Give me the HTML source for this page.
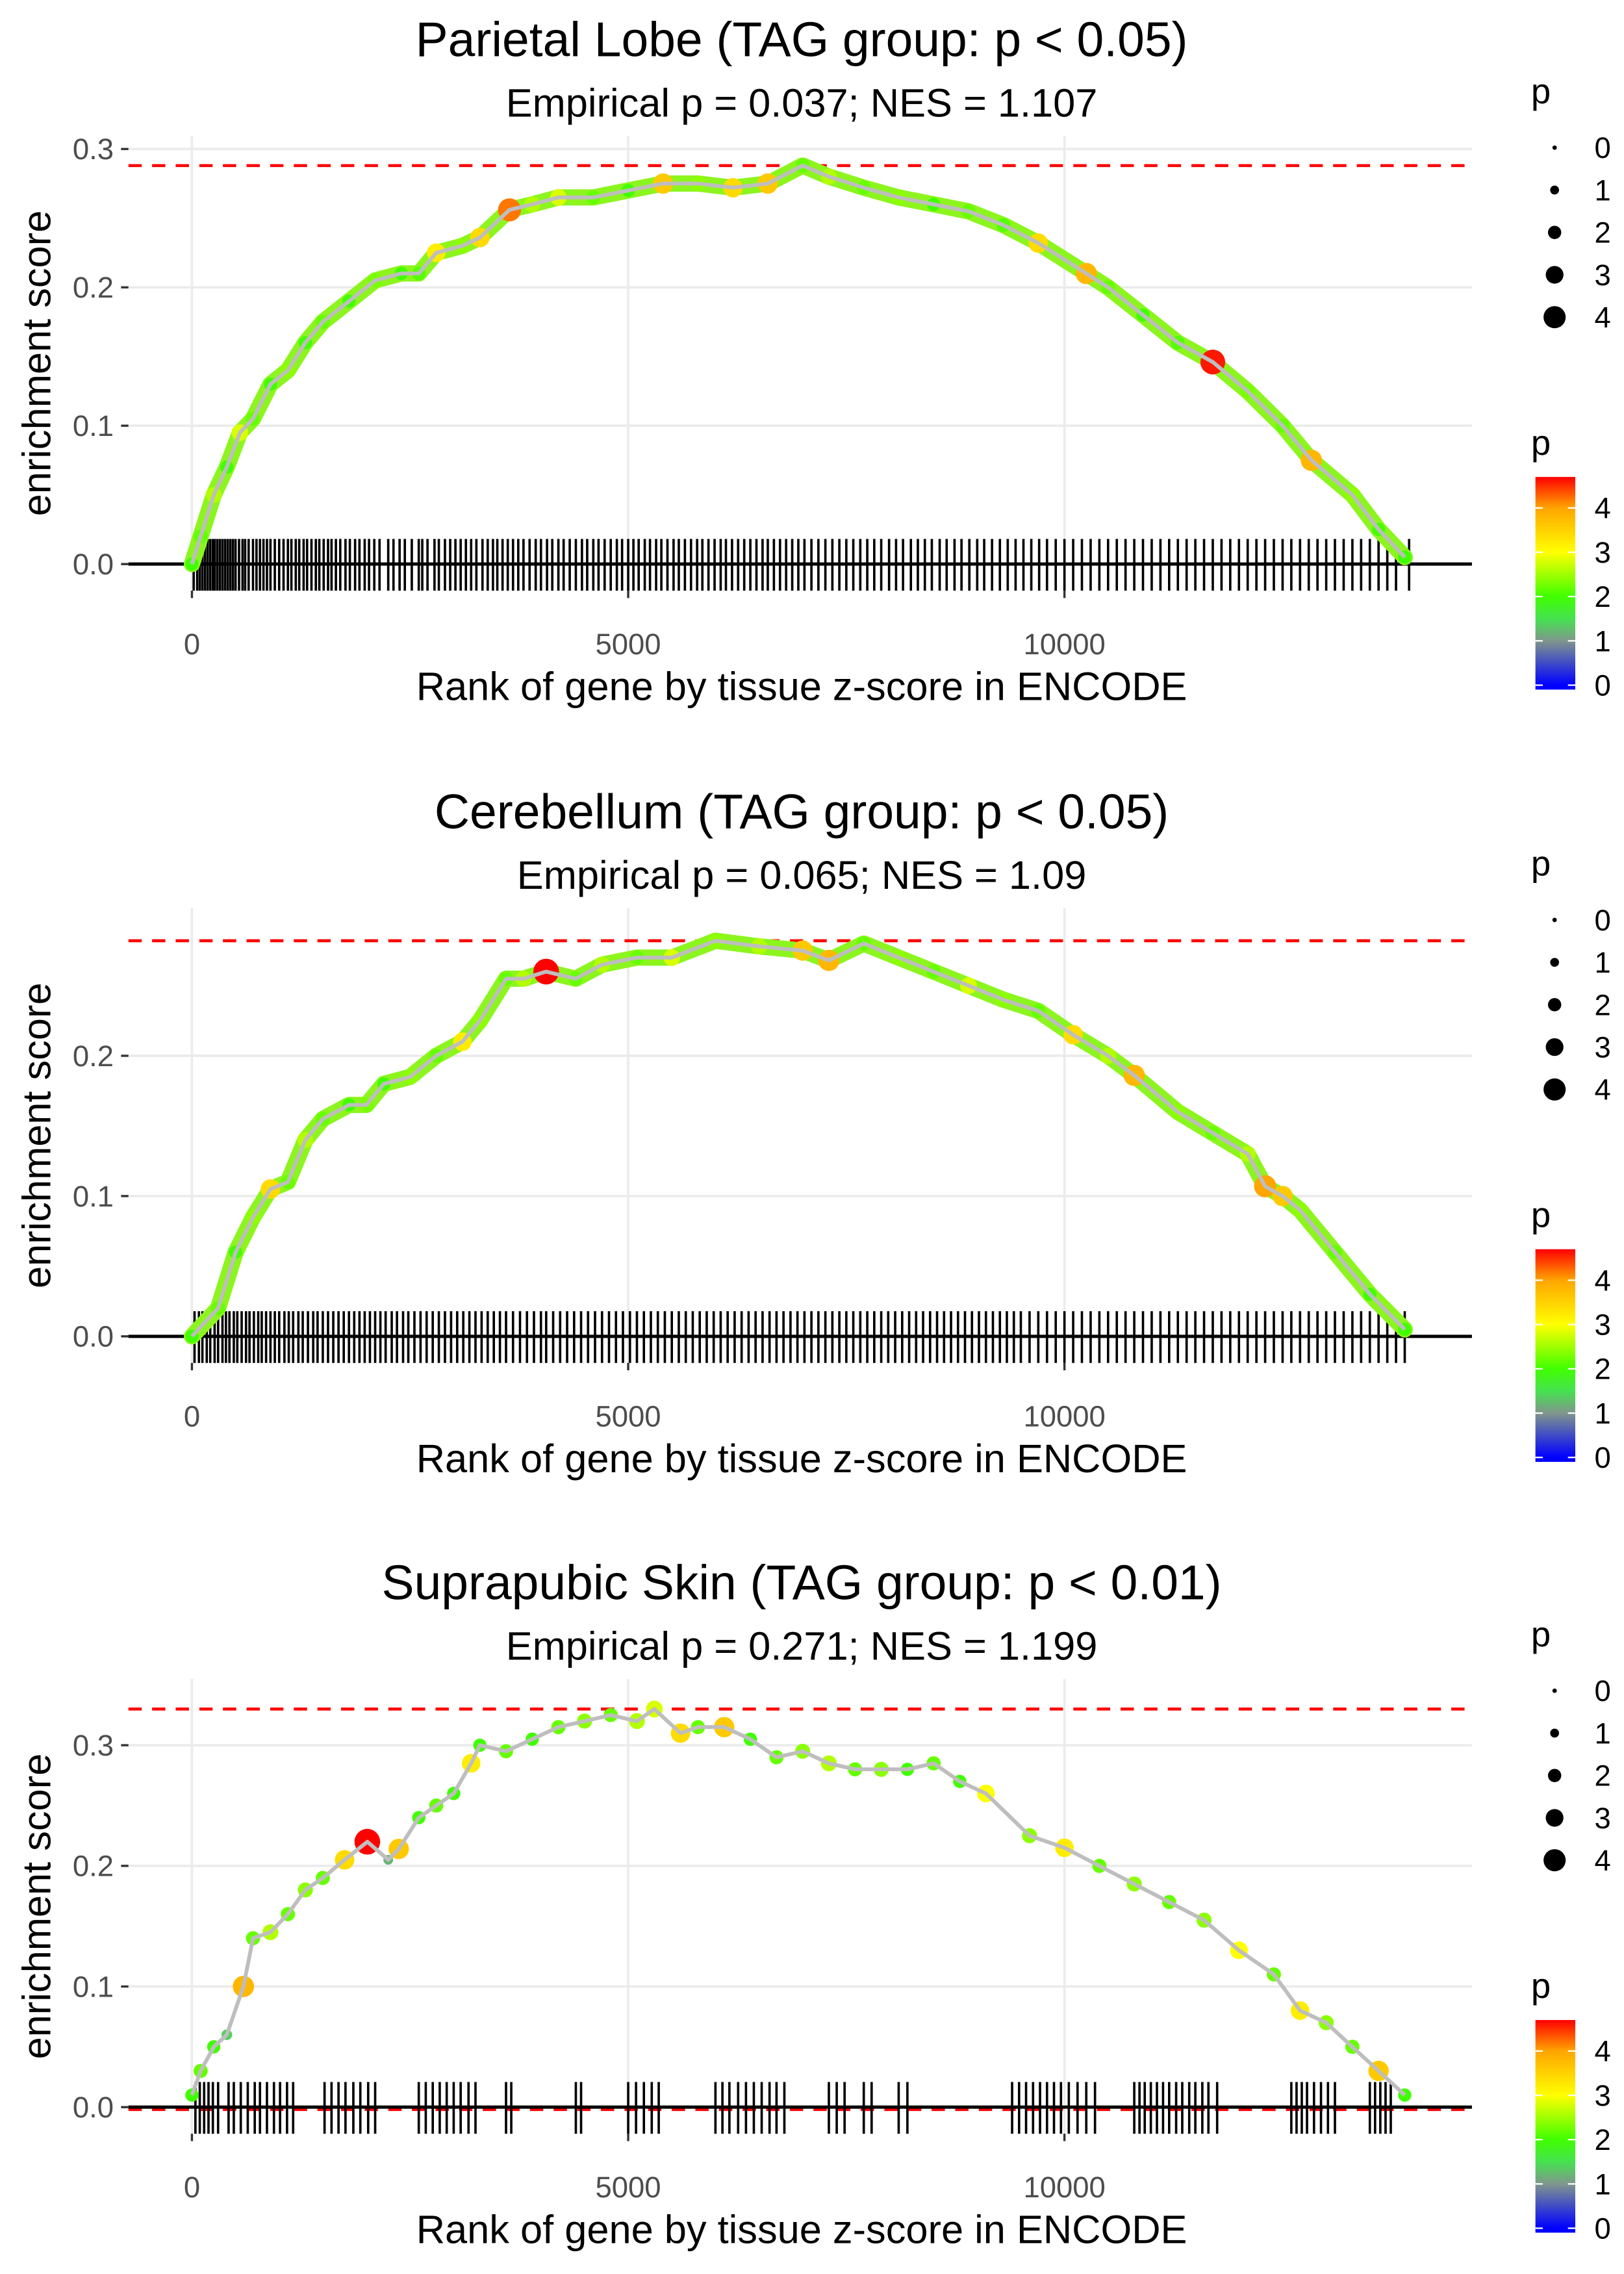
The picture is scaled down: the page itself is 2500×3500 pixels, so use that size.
<!DOCTYPE html>
<html><head><meta charset="utf-8"><style>html,body{margin:0;padding:0;background:#fff}svg{display:block}text{font-family:"Liberation Sans",Arial,sans-serif}</style></head>
<body>
<svg id="fig" xmlns="http://www.w3.org/2000/svg" width="2500" height="3500" viewBox="0 0 1100 1540"></svg>
<script>
// ---- Panel 1 data: Parietal Lobe ----
const p1Ranks=[0,100,250,400,550,700,900,1100,1300,1500,1800,2100,2400,2600,2800,3100,3300,3640,3900,4200,4600,5000,5400,5800,6200,6600,7000,7300,7700,8100,8500,8900,9300,9700,10250,10500,10900,11300,11700,12100,12500,12830,13300,13600,13900];
const p1ES=[0,0.02,0.05,0.07,0.095,0.105,0.13,0.14,0.16,0.175,0.19,0.205,0.21,0.21,0.225,0.23,0.236,0.256,0.26,0.265,0.265,0.27,0.275,0.275,0.272,0.275,0.288,0.28,0.272,0.265,0.26,0.255,0.245,0.232,0.21,0.2,0.18,0.16,0.146,0.125,0.1,0.075,0.05,0.025,0.005];
const p1P=[2,2.2,2.6,2,2.8,2.2,2,2.4,2,2.2,2,2.3,2,2.1,3.2,2.4,3.4,4.2,2.6,2.8,2.2,2,3.6,2.4,3.4,3.6,2.2,2.6,2.2,2.4,2,2.2,2.1,3.4,3.8,2.2,2,2.1,4.6,2.3,2.2,3.8,2.4,2,2];
const p1Rug=[20,60,90,120,150,180,210,240,260,290,320,350,380,410,440,470,500,540,580,610,650,700,740,780,820,860,900,950,1000,1050,1100,1140,1190,1230,1280,1320,1370,1420,1460,1510,1560,1600,1650,1700,1760,1810,1870,1920,1980,2030,2090,2150,2250,2310,2380,2440,2520,2600,2640,2700,2780,2830,2900,2960,3020,3080,3140,3200,3260,3330,3390,3450,3500,3560,3620,3680,3740,3800,3870,3940,4000,4070,4130,4200,4260,4330,4400,4470,4530,4600,4660,4730,4800,4870,4930,5000,5060,5120,5190,5250,5320,5380,5450,5520,5580,5650,5720,5790,5850,5920,5990,6060,6120,6190,6260,6330,6400,6470,6540,6600,6670,6740,6810,6880,6950,7020,7100,7180,7260,7340,7420,7500,7580,7660,7740,7820,7900,7990,8070,8150,8240,8320,8400,8480,8570,8650,8740,8820,8910,9000,9080,9170,9260,9350,9440,9530,9620,9710,9800,9900,10000,10100,10200,10300,10400,10500,10600,10700,10800,10900,11000,11100,11200,11300,11400,11500,11600,11700,11800,11900,12000,12100,12200,12300,12400,12500,12600,12700,12800,12900,13000,13100,13200,13300,13400,13500,13600,13700,13800,13950];
// ---- Panel 2 data: Cerebellum ----
const p2Ranks=[0,300,500,700,900,1100,1300,1500,1800,2000,2200,2500,2800,3100,3300,3600,3800,4060,4400,4700,5100,5500,6000,6500,7000,7300,7700,8100,8500,8900,9300,9700,10100,10500,10800,11300,11700,12100,12300,12500,12700,13100,13500,13900];
const p2ES=[0,0.02,0.06,0.085,0.105,0.11,0.14,0.155,0.165,0.165,0.18,0.185,0.2,0.21,0.225,0.255,0.255,0.26,0.255,0.265,0.27,0.27,0.282,0.278,0.275,0.268,0.28,0.27,0.26,0.25,0.24,0.232,0.215,0.2,0.186,0.16,0.145,0.13,0.107,0.1,0.09,0.06,0.03,0.005];
const p2P=[2,2.2,2,2.4,3.4,2.2,2.6,2.2,2,2.3,2,2.4,2.2,3.2,2.4,2.2,2.6,4.8,2.2,2.6,2.2,2.8,2.4,2.6,3.6,3.8,2.2,2.4,2.2,2.8,2.4,2.2,3.4,2.6,3.8,2.4,2.2,2.6,4,3.6,2.4,2.2,2,2];
const p2Rug=[30,80,120,170,210,260,300,350,390,430,480,520,570,620,660,710,760,800,850,900,950,1000,1060,1110,1160,1220,1270,1330,1390,1440,1500,1560,1620,1680,1740,1800,1860,1920,1980,2040,2100,2160,2220,2290,2350,2420,2480,2550,2620,2690,2760,2830,2900,2970,3040,3110,3180,3250,3320,3390,3460,3530,3600,3680,3760,3840,3920,4000,4060,4140,4220,4300,4380,4460,4540,4620,4700,4780,4860,4940,5020,5100,5180,5260,5340,5420,5500,5580,5660,5740,5820,5900,5980,6060,6140,6220,6300,6380,6460,6540,6620,6700,6780,6860,6940,7020,7100,7180,7260,7340,7420,7500,7580,7660,7740,7820,7900,7980,8060,8140,8220,8300,8380,8460,8540,8620,8700,8780,8860,8940,9020,9100,9180,9260,9340,9420,9500,9600,9700,9800,9900,10000,10100,10200,10300,10400,10500,10600,10700,10800,10900,11000,11100,11200,11300,11400,11500,11600,11700,11800,11900,12000,12100,12200,12300,12400,12500,12600,12700,12800,12900,13000,13100,13200,13300,13400,13500,13600,13700,13800,13900];
// ---- Panel 3 data: Suprapubic Skin ----
const p3Ranks=[0,100,250,400,590,700,900,1100,1300,1500,1750,2010,2250,2370,2600,2800,3000,3200,3300,3600,3900,4200,4500,4800,5100,5300,5600,5800,6100,6400,6700,7000,7300,7600,7900,8200,8500,8800,9100,9600,10000,10400,10800,11200,11600,12000,12400,12700,13000,13300,13600,13900];
const p3ES=[0.01,0.03,0.05,0.06,0.1,0.14,0.145,0.16,0.18,0.19,0.205,0.22,0.205,0.214,0.24,0.25,0.26,0.285,0.3,0.295,0.305,0.315,0.32,0.325,0.32,0.33,0.31,0.315,0.315,0.305,0.29,0.295,0.285,0.28,0.28,0.28,0.285,0.27,0.26,0.225,0.215,0.2,0.185,0.17,0.155,0.13,0.11,0.08,0.07,0.05,0.03,0.01];
const p3P=[2,2.2,2,1.4,3.8,2.2,2.6,2.2,2.4,2.2,3.4,4.8,1.2,3.6,2,2.2,2,3.2,2,2.2,2,2.2,2.4,2.2,2.6,2.8,3.4,2.2,3.6,2,2.2,2.4,2.6,2.2,2.4,2,2.2,2,3,2.4,3.2,2.2,2.4,2.2,2.4,3,2.2,3.2,2.4,2.2,3.6,2];
const p3Rug=[40,90,140,190,240,300,420,480,560,640,720,780,860,940,1010,1090,1160,1520,1600,1680,1760,1850,1930,2020,2100,2600,2680,2760,2840,2920,3000,3080,3170,3250,3600,3660,4400,4460,5000,5090,5180,5270,5350,6000,6080,6160,6260,6350,6440,6530,6620,6700,6790,7300,7390,7480,7700,7790,8100,8200,9400,9480,9560,9640,9720,9800,9880,9960,10050,10150,10250,10350,10800,10860,10920,10990,11060,11130,11200,11280,11350,11430,11500,11580,11650,11750,12600,12660,12720,12780,12860,12940,13020,13100,13500,13560,13620,13680,13740];
// ---- Axis ticks ----
const xTicks=[0,5000,10000];
const xTickLabels=["0","5000","10000"];
const yTicks12=[0,0.1,0.2,0.3];
const yTicks3=[0,0.1,0.2,0.3];
const legendP=[0,1,2,3,4];

const NS="http://www.w3.org/2000/svg";
const svg=document.getElementById('fig');
function mk(tag,attrs,parent){const e=document.createElementNS(NS,tag);for(const k in attrs)e.setAttribute(k,attrs[k]);(parent||svg).appendChild(e);return e;}
const stops=[[0,[0,0,255]],[1,[128,150,140]],[1.5,[70,225,80]],[2,[64,255,0]],[3,[255,255,0]],[4,[255,165,0]],[4.7,[255,0,0]]];
function pcol(p){p=Math.max(0,Math.min(4.7,p));for(let i=0;i<stops.length-1;i++){const a=stops[i],b=stops[i+1];if(p<=b[0]){const t=(p-a[0])/(b[0]-a[0]);const c=a[1].map((v,j)=>Math.round(v+(b[1][j]-v)*t));return `rgb(${c[0]},${c[1]},${c[2]})`;}}return 'rgb(255,0,0)';}
function prad(p){return 1.5+1.5*p;}

function panel(cfg){
  const g=mk('g',{});
  
  
  const xs=r=>130+r*295.5/5000;
  const ys=v=>cfg.y0-v*cfg.per;
  xTicks.forEach(t=>{const l=mk('line',{x1:xs(t),x2:xs(t),y1:cfg.top,y2:cfg.bot,stroke:'#ebebeb','stroke-width':1.6},g);});
  cfg.yt.forEach(t=>{const l=mk('line',{x1:87,x2:997,y1:ys(t),y2:ys(t),stroke:'#ebebeb','stroke-width':1.6},g);});
  xTicks.forEach((t,i)=>{mk('line',{x1:xs(t),x2:xs(t),y1:cfg.bot,y2:cfg.bot+5,stroke:'#333','stroke-width':1.5},g);
    const tx=mk('text',{x:xs(t),y:cfg.xl,'font-size':20,fill:'#4d4d4d','text-anchor':'middle'},g);tx.textContent=xTickLabels[i];
    });
  cfg.yt.forEach(t=>{mk('line',{x1:82,x2:87,y1:ys(t),y2:ys(t),stroke:'#333','stroke-width':1.5},g);
    const tx=mk('text',{x:77,y:ys(t)+7,'font-size':20,fill:'#4d4d4d','text-anchor':'end'},g);tx.textContent=t.toFixed(1);
    });
  const mx=Math.max(...cfg.es);
  const rd=mk('line',{x1:87,x2:997,y1:ys(mx),y2:ys(mx),stroke:'#ff0000','stroke-width':2,'stroke-dasharray':'9,7'},g);
  
  if(cfg.minLine){const r2=mk('line',{x1:87,x2:997,y1:ys(-0.002),y2:ys(-0.002),stroke:'#ff0000','stroke-width':2,'stroke-dasharray':'9,7'},g);}
  const rug=mk('g',{},g);
  cfg.rug.forEach(r=>{mk('line',{x1:xs(r),x2:xs(r),y1:cfg.y0-17,y2:cfg.y0+18,stroke:'#000','stroke-width':1.6},rug);});
  const zl=mk('line',{x1:87,x2:997,y1:ys(0),y2:ys(0),stroke:'#000','stroke-width':2.2},g);
  
  const pts=cfg.ranks.map((r,i)=>xs(r).toFixed(1)+','+ys(cfg.es[i]).toFixed(1)).join(' ');
  if(cfg.band){const b=mk('polyline',{points:pts,fill:'none',stroke:'#8cf51e','stroke-width':11,'stroke-linejoin':'round','stroke-linecap':'round'},g);}
  const pg=mk('g',{},g);
  cfg.ranks.forEach((r,i)=>{const c=mk('circle',{cx:xs(r),cy:ys(cfg.es[i]),r:prad(cfg.p[i]),fill:pcol(cfg.p[i])},pg);
    });
  const ln=mk('polyline',{points:pts,fill:'none',stroke:'#bebebe','stroke-width':2.6,'stroke-linejoin':'round'},g);
  
  const t1=mk('text',{x:543,y:cfg.ty,'font-size':33,fill:'#000','text-anchor':'middle'},g);t1.textContent=cfg.title;
  
  const t2=mk('text',{x:543,y:cfg.ty+41,'font-size':27,fill:'#000','text-anchor':'middle'},g);t2.textContent=cfg.sub;
  
  const xt=mk('text',{x:543,y:cfg.xl+31,'font-size':27,fill:'#000','text-anchor':'middle'},g);xt.textContent='Rank of gene by tissue z-score in ENCODE';
  
  const yc=(cfg.top+cfg.bot)/2;
  const yt=mk('text',{x:34,y:yc,'font-size':27,fill:'#000','text-anchor':'middle',transform:`rotate(-90 34 ${yc})`},g);yt.textContent='enrichment score';
  
  const L=cfg.leg;
  const lg=mk('g',{},g);
  const lt=mk('text',{x:1037,y:L+8,'font-size':24,fill:'#000'},lg);lt.textContent='p';
  legendP.forEach((p,i)=>{const y=L+38+i*28.7;mk('circle',{cx:1053,cy:y,r:prad(p),fill:'#000'},lg);
    const tx=mk('text',{x:1080,y:y+7,'font-size':20,fill:'#000'},lg);tx.textContent=String(p);
    });
  const cg=mk('g',{},g);
  const ct=mk('text',{x:1037,y:L+246,'font-size':24,fill:'#000'},cg);ct.textContent='p';
  const top=L+261,h=144;
  mk('rect',{x:1040,y:top,width:27,height:h,fill:'url(#cbar)'},cg);
  const pmax=4.7;
  legendP.forEach(p=>{const y=top+h-(p+0.1)/(pmax+0.1)*h;
    mk('line',{x1:1040,x2:1045,y1:y,y2:y,stroke:'#fff','stroke-width':1},cg);mk('line',{x1:1062,x2:1067,y1:y,y2:y,stroke:'#fff','stroke-width':1},cg);
    const tx=mk('text',{x:1080,y:y+7,'font-size':20,fill:'#000'},cg);tx.textContent=String(p);
    });
}
const defs=mk('defs',{});const gr=mk('linearGradient',{id:'cbar',x1:0,y1:1,x2:0,y2:0},defs);
stops.forEach(s=>{mk('stop',{offset:((s[0]+0.1)/4.8).toFixed(3),'stop-color':pcol(s[0])},gr);});
mk('rect',{x:0,y:0,width:1100,height:1540,fill:'#fff'});

panel({name:'parietal-lobe',title:'Parietal Lobe (TAG group: p < 0.05)',sub:'Empirical p = 0.037; NES = 1.107',ranks:p1Ranks,es:p1ES,p:p1P,rug:p1Rug,y0:382,per:937,top:92,bot:400,xl:443,ty:38,yt:yTicks12,leg:62,band:true});
panel({name:'cerebellum',title:'Cerebellum (TAG group: p < 0.05)',sub:'Empirical p = 0.065; NES = 1.09',ranks:p2Ranks,es:p2ES,p:p2P,rug:p2Rug,y0:905,per:950,top:615,bot:923,xl:966,ty:561,yt:[0,0.1,0.2],leg:585,band:true});
panel({name:'suprapubic-skin',title:'Suprapubic Skin (TAG group: p < 0.01)',sub:'Empirical p = 0.271; NES = 1.199',ranks:p3Ranks,es:p3ES,p:p3P,rug:p3Rug,y0:1427,per:817,top:1137,bot:1445,xl:1488,ty:1083,yt:yTicks3,leg:1107,band:false,minLine:true});
</script>
</body></html>
